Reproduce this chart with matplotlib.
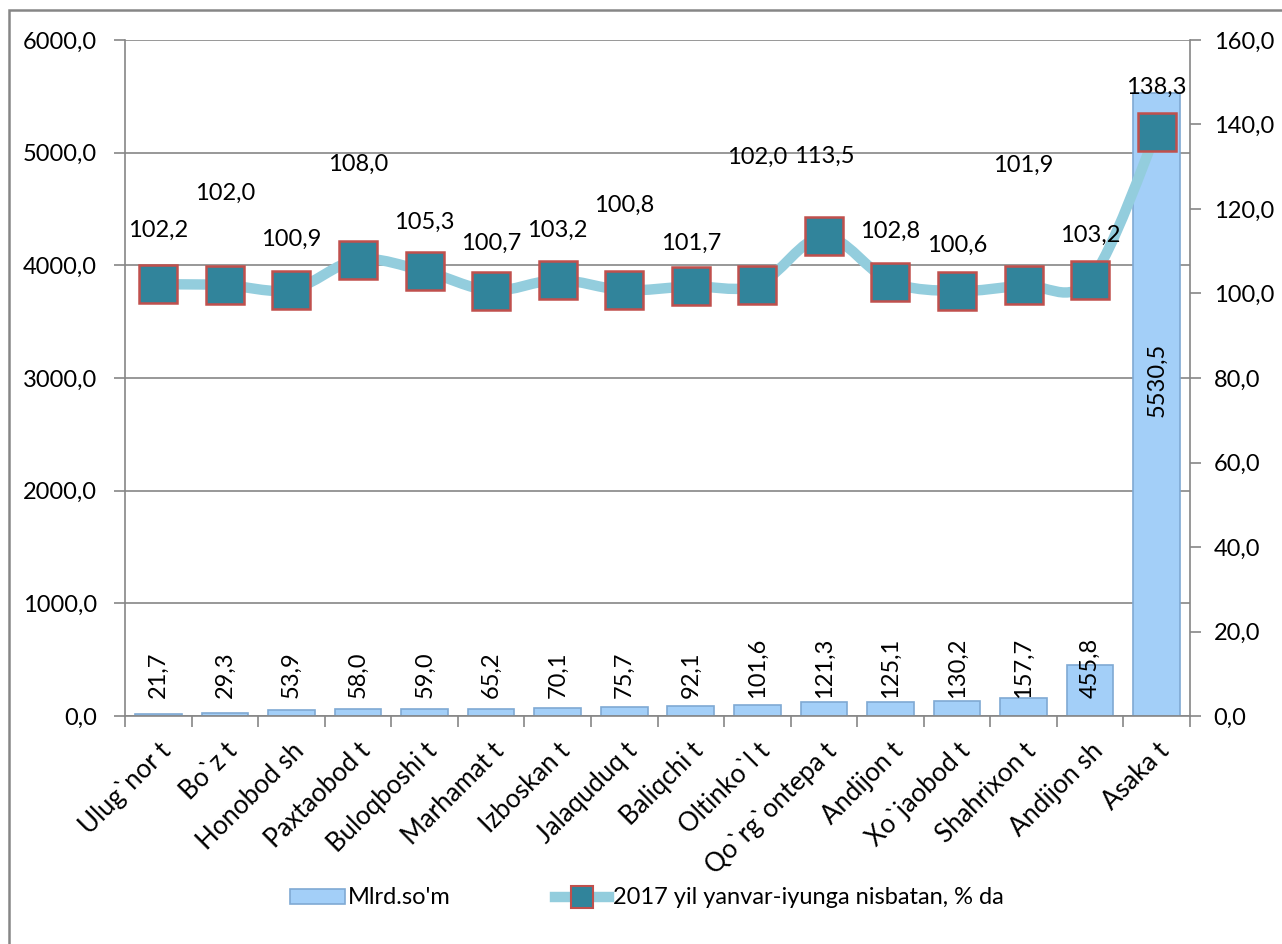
import matplotlib
matplotlib.use('Agg')
import matplotlib.pyplot as plt
from matplotlib.path import Path
from matplotlib.patches import PathPatch, Rectangle
from matplotlib.lines import Line2D
from matplotlib.ticker import FuncFormatter, FixedLocator

categories = ["Ulug`nor t", "Bo`z t", "Honobod sh", "Paxtaobod t", "Buloqboshi t",
              "Marhamat t", "Izboskan t", "Jalaquduq t", "Baliqchi t", "Oltinko`l t",
              "Qo`rg`ontepa t", "Andijon t", "Xo`jaobod t", "Shahrixon t", "Andijon sh", "Asaka t"]
mlrd_som = [21.7, 29.3, 53.9, 58.0, 59.0, 65.2, 70.1, 75.7, 92.1, 101.6, 121.3, 125.1,
            130.2, 157.7, 455.8, 5530.5]
percent = [102.2, 102.0, 100.9, 108.0, 105.3, 100.7, 103.2, 100.8, 101.7, 102.0, 113.5,
           102.8, 100.6, 101.9, 103.2, 138.3]
left_ticks = [0, 1000, 2000, 3000, 4000, 5000, 6000]
right_ticks = [0, 20, 40, 60, 80, 100, 120, 140, 160]
bar_name = "Mlrd.so'm"
line_name = "2017 yil yanvar-iyunga nisbatan, % da"

# label offsets above markers (pixels) - layout only
line_label_offsets = [54, 92, 50, 95, 49, 47, 50, 85, 43, 128, 80, 50, 46, 120, 45, 44]

plt.rcParams['font.family'] = ['Lato', 'DejaVu Sans']
FS = 17
FS_CAT = 18.5
GRAY = '#868686'
BAR_FACE = '#A3CFF8'
BAR_EDGE = '#7FA9D3'
LINE_COL = '#93CDDD'
MK_FACE = '#31849B'
MK_EDGE = '#C0504D'

W, H = 1282, 944
fig = plt.figure(figsize=(W / 100, H / 100), dpi=100)
fig.patch.set_facecolor('white')
L, R, T, B = 125, 1190, 40, 716
ax = fig.add_axes([L / W, 1 - B / H, (R - L) / W, (B - T) / H])
ax2 = ax.twinx()

def fmt(v, pos=None):
    return f"{v:.1f}".replace('.', ',')

x = list(range(len(categories)))
ax.bar(x, mlrd_som, width=0.7, color=BAR_FACE, edgecolor=BAR_EDGE, linewidth=1.2, zorder=2)
ax.set_ylim(0, 6000)
ax.set_xlim(-0.5, len(categories) - 0.5)
ax.yaxis.set_major_locator(FixedLocator(left_ticks))
ax.yaxis.set_major_formatter(FuncFormatter(fmt))
ax.set_axisbelow(True)
ax.grid(axis='y', color=GRAY, linewidth=1.2)
for s in ['top', 'right']:
    ax.spines[s].set_visible(False)
for s in ['left', 'bottom']:
    ax.spines[s].set_color(GRAY)
    ax.spines[s].set_linewidth(1.2)
ax.tick_params(axis='y', direction='out', length=8, color=GRAY, labelsize=FS, pad=12, width=1.2)
ax.set_xticks(x)
ax.set_xticklabels(categories, rotation=45, ha='right', va='top', rotation_mode='anchor', fontsize=FS_CAT)
ax.tick_params(axis='x', which='major', length=0, pad=16)
ax.set_xticks([i - 0.5 for i in range(len(categories) + 1)], minor=True)
ax.tick_params(axis='x', which='minor', length=8, color=GRAY, width=1.2)

# bar value labels
for i, v in enumerate(mlrd_som):
    if v > 3000:
        ax.annotate(fmt(v), (i, v / 2), xytext=(0, 25 * 0.72), textcoords='offset points',
                    rotation=90, ha='center', va='center', fontsize=FS, zorder=5)
    else:
        ax.annotate(fmt(v), (i, 0), xytext=(0, 18 * 0.72), textcoords='offset points',
                    rotation=90, ha='center', va='bottom', fontsize=FS, zorder=5)

# smooth line (Catmull-Rom rendering through the points)
ax2.set_ylim(0, 160)
pts = list(zip(x, percent))
verts = [pts[0]]
codes = [Path.MOVETO]
n = len(pts)
for i in range(n - 1):
    p0 = pts[i - 1] if i > 0 else pts[i]
    p1 = pts[i]
    p2 = pts[i + 1]
    p3 = pts[i + 2] if i + 2 < n else pts[i + 1]
    c1 = (p1[0] + (p2[0] - p0[0]) / 6, p1[1] + (p2[1] - p0[1]) / 6)
    c2 = (p2[0] - (p3[0] - p1[0]) / 6, p2[1] - (p3[1] - p1[1]) / 6)
    verts += [c1, c2, p2]
    codes += [Path.CURVE4] * 3
ax2.add_patch(PathPatch(Path(verts, codes), facecolor='none', edgecolor=LINE_COL,
                        linewidth=7.5, capstyle='round', joinstyle='round', zorder=3))
ax2.plot(x, percent, linestyle='none', marker='s', markersize=27, markerfacecolor=MK_FACE,
         markeredgecolor=MK_EDGE, markeredgewidth=1.8, zorder=4)
for i, v in enumerate(percent):
    ax2.annotate(fmt(v), (i, v), xytext=(0, line_label_offsets[i] * 0.72), textcoords='offset points',
                 ha='center', va='center', fontsize=FS, zorder=6)

ax2.yaxis.set_major_locator(FixedLocator(right_ticks))
ax2.yaxis.set_major_formatter(FuncFormatter(fmt))
for s in ['top', 'left', 'bottom']:
    ax2.spines[s].set_visible(False)
ax2.spines['right'].set_color(GRAY)
ax2.spines['right'].set_linewidth(1.2)
ax2.tick_params(axis='y', direction='out', length=8, color=GRAY, labelsize=FS, pad=9, width=1.2)

# legend
h1 = Rectangle((0, 0), 1, 1, facecolor=BAR_FACE, edgecolor=BAR_EDGE, linewidth=1.2)
h2 = Line2D([], [], color=LINE_COL, linewidth=7.5, marker='s', markersize=16,
            markerfacecolor=MK_FACE, markeredgecolor=MK_EDGE, markeredgewidth=1.5)
fig.legend([h1, h2], [bar_name, line_name], loc='center', ncol=2, frameon=False,
           bbox_to_anchor=(647 / W, 1 - 898 / H), fontsize=FS, handlelength=2.3,
           handleheight=0.6, handletextpad=0.15, columnspacing=4.4)

# outer chart border (partly cut off at right/bottom)
fig.patches.append(Rectangle((9 / W, -0.1), 1.2, 1 - 10 / H + 0.1, transform=fig.transFigure,
                             facecolor='none', edgecolor=GRAY, linewidth=1.8, zorder=0))

fig.savefig('out.png', dpi=100)
